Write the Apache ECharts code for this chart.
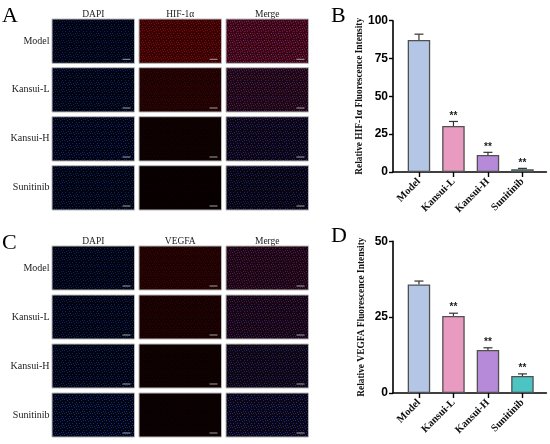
<!DOCTYPE html>
<html>
<head>
<meta charset="utf-8">
<script src="https://cdn.jsdelivr.net/npm/echarts@6/dist/echarts.min.js"></script>
<style>
  html, body { margin: 0; padding: 0; background: #fff; }
  #main { width: 550px; height: 444px; }
</style>
</head>
<body>
<div id="main"></div>
<script>
// groups on the x axis of both bar charts
const categories = ['Model', 'Kansui-L', 'Kansui-H', 'Sunitinib'];
// B: relative HIF-1α fluorescence intensity (mean, error)
const hifMean = [87.2, 30.4, 11.2, 1.8];
const hifErr = [3.9, 3.0, 1.8, 0.6];
// D: relative VEGFA fluorescence intensity (mean, error)
const vegfaMean = [35.8, 25.4, 14.2, 5.6];
const vegfaErr = [1.1, 0.9, 0.7, 0.7];
// significance marks over each bar
const sigMarks = ['', '**', '**', '**'];
const hifTicks = [0, 25, 50, 75, 100];
const vegfaTicks = [0, 25, 50];
const barColors = ['#b4c6e6', '#e89ac1', '#b68ad9', '#4cc4c4'];
// staining brightness of each row (0..1), for the micrograph panels
const hifStain = [1.0, 0.5, 0.2, 0.13];
const vegfaStain = [0.5, 0.38, 0.22, 0.16];
const dapiStainA = [0.85, 0.9, 1.0, 0.9];
const dapiStainC = [0.85, 0.9, 0.95, 1.15];

let myChart = echarts.init(document.getElementById('main'));

const SERIF = '"Liberation Serif", "Times New Roman", serif';
const SANS = '"Liberation Sans", Arial, sans-serif';

// dot texture, to look a bit like a fluorescence micrograph
const dots = [[1, 0], [4, 1], [6, 3], [2, 3], [0, 5], [5, 5], [3, 6], [6, 0]];
function rgb(r, g, b) {
    return 'rgb(' + Math.round(r) + ',' + Math.round(g) + ',' + Math.round(b) + ')';
}
function makeTexture(blue, red) {
    let c = document.createElement('canvas');
    c.width = 7; c.height = 7;
    let ctx = c.getContext('2d');
    ctx.fillStyle = '#000';
    ctx.fillRect(0, 0, 7, 7);
    ctx.globalCompositeOperation = 'lighter';
    if (blue > 0) {
        ctx.fillStyle = rgb(1 * blue, 4 * blue, 16 * blue);
        ctx.fillRect(0, 0, 7, 7);
        ctx.fillStyle = rgb(12 * blue, 32 * blue, 95 * blue);
        dots.forEach(function (d) { ctx.fillRect(d[0], d[1], 1, 1); });
    }
    if (red > 0) {
        ctx.fillStyle = rgb(55 * red, 3 * red, 4 * red);
        ctx.fillRect(0, 0, 7, 7);
        ctx.fillStyle = rgb(70 * red, 6 * red, 6 * red);
        dots.forEach(function (d) { ctx.fillRect((d[0] + 3) % 7, (d[1] + 2) % 7, 1, 1); });
    }
    return c;
}

function panelBlock(letter, topY, rowTops, h, marker, stain, dapi) {
    let els = [];
    const colX = [52, 139, 226];
    const w = 82.5;
    els.push({ type: 'text', x: 2, y: topY - 14, style: { text: letter, font: '22px ' + SERIF, fill: '#000' } });
    const heads = ['DAPI', marker, 'Merge'];
    heads.forEach(function (t, j) {
        els.push({ type: 'text', x: colX[j] + w / 2, y: topY - 5,
            style: { text: t, font: '9.5px ' + SERIF, fill: '#222', align: 'center', verticalAlign: 'middle', textAlign: 'center', textVerticalAlign: 'middle' } });
    });
    rowTops.forEach(function (y0, i) {
        els.push({ type: 'text', x: 49.5, y: y0 + h / 2,
            style: { text: categories[i], font: '10px ' + SERIF, fill: '#222', align: 'right', verticalAlign: 'middle', textAlign: 'right', textVerticalAlign: 'middle' } });
        const tex = [makeTexture(dapi[i], 0), makeTexture(0, stain[i]), makeTexture(dapi[i], stain[i])];
        tex.forEach(function (cv, j) {
            els.push({ type: 'rect', shape: { x: colX[j], y: y0, width: w, height: h },
                style: { fill: { image: cv, repeat: 'repeat' }, stroke: '#b8b8b8', lineWidth: 1 } });
            els.push({ type: 'line', shape: { x1: colX[j] + w - 12, y1: y0 + h - 4, x2: colX[j] + w - 4, y2: y0 + h - 4 },
                style: { stroke: '#a0a0a0', lineWidth: 1 } });
        });
    });
    return els;
}

function errorSeries(mean, err, xIdx, yIdx) {
    return {
        type: 'custom',
        xAxisIndex: xIdx,
        yAxisIndex: yIdx,
        silent: true,
        z: 5,
        data: categories.map(function (c, i) { return [i, mean[i], err[i]]; }),
        renderItem: function (params, api) {
            let i = api.value(0);
            let base = api.coord([i, api.value(1)]);
            let top = api.coord([i, api.value(1) + api.value(2)]);
            let children = [
                { type: 'line', shape: { x1: base[0], y1: base[1], x2: top[0], y2: top[1] }, style: { stroke: '#333', lineWidth: 1.2 } },
                { type: 'line', shape: { x1: top[0] - 4.5, y1: top[1], x2: top[0] + 4.5, y2: top[1] }, style: { stroke: '#333', lineWidth: 1.2 } }
            ];
            if (sigMarks[params.dataIndex]) {
                children.push({ type: 'text', x: top[0], y: top[1] - 0.5,
                    style: { text: sigMarks[params.dataIndex], font: 'bold 10px ' + SANS, fill: '#222', align: 'center', verticalAlign: 'bottom', textAlign: 'center', textVerticalAlign: 'bottom' } });
            }
            return { type: 'group', children: children };
        }
    };
}

function barSeries(mean, xIdx, yIdx) {
    return {
        type: 'bar',
        xAxisIndex: xIdx,
        yAxisIndex: yIdx,
        barWidth: 22.5,
        silent: true,
        data: mean.map(function (v, i) {
            return { value: v, itemStyle: { color: barColors[i] } };
        }),
        itemStyle: { borderColor: '#505050', borderWidth: 1.3 }
    };
}

function frameX(gi) {
    return { gridIndex: gi, type: 'value', min: 0, max: 1,
        axisLine: { show: true, lineStyle: { color: '#000', width: 1.6 } },
        axisTick: { show: false }, axisLabel: { show: false }, splitLine: { show: false } };
}
function frameY(gi, ticks, name) {
    return { gridIndex: gi, type: 'value', min: ticks[0], max: ticks[ticks.length - 1], interval: ticks[1] - ticks[0],
        name: name, nameLocation: 'middle', nameGap: 27,
        nameTextStyle: { fontFamily: SERIF, fontWeight: 'bold', fontSize: 9.4, color: '#111' },
        axisLine: { show: true, lineStyle: { color: '#000', width: 1.6 } },
        axisTick: { show: true, length: 4, lineStyle: { color: '#000', width: 1.4 } },
        axisLabel: { fontFamily: SANS, fontWeight: 'bold', fontSize: 12, color: '#000', margin: 5 },
        splitLine: { show: false } };
}
function catX(gi) {
    return { gridIndex: gi, type: 'category', data: categories,
        axisLine: { show: false },
        axisTick: { show: true, alignWithLabel: true, length: 5, lineStyle: { color: '#000', width: 1.4 } },
        axisLabel: { rotate: 45, fontFamily: SERIF, fontWeight: 'bold', fontSize: 10.5, color: '#111', margin: 8, interval: 0 } };
}
function hideY(gi, ticks) {
    return { gridIndex: gi, type: 'value', min: ticks[0], max: ticks[ticks.length - 1], show: false };
}

let option = {
    animation: false,
    grid: [
        { left: 393, top: 20.7, width: 153.4, height: 151.3 },
        { left: 401.7, top: 20.7, width: 138, height: 151.3 },
        { left: 393, top: 241.3, width: 153.4, height: 151.7 },
        { left: 401.7, top: 241.3, width: 138, height: 151.7 }
    ],
    xAxis: [frameX(0), catX(1), frameX(2), catX(3)],
    yAxis: [
        frameY(0, hifTicks, 'Relative HIF-1α Fluorescence Intensity'),
        hideY(1, hifTicks),
        frameY(2, vegfaTicks, 'Relative VEGFA Fluorescence Intensity'),
        hideY(3, vegfaTicks)
    ],
    series: [
        barSeries(hifMean, 1, 1),
        errorSeries(hifMean, hifErr, 1, 1),
        barSeries(vegfaMean, 3, 3),
        errorSeries(vegfaMean, vegfaErr, 3, 3)
    ],
    graphic: {
        elements: []
            .concat(panelBlock('A', 19, [19, 67.7, 116.7, 165.7], 44.3, 'HIF-1α', hifStain, dapiStainA))
            .concat(panelBlock('C', 246, [246, 295, 344, 393], 44, 'VEGFA', vegfaStain, dapiStainC))
            .concat([
                { type: 'text', x: 331, y: 5, style: { text: 'B', font: '22px ' + SERIF, fill: '#000' } },
                { type: 'text', x: 331, y: 225, style: { text: 'D', font: '22px ' + SERIF, fill: '#000' } }
            ])
    }
};

myChart.setOption(option);
</script>
</body>
</html>
